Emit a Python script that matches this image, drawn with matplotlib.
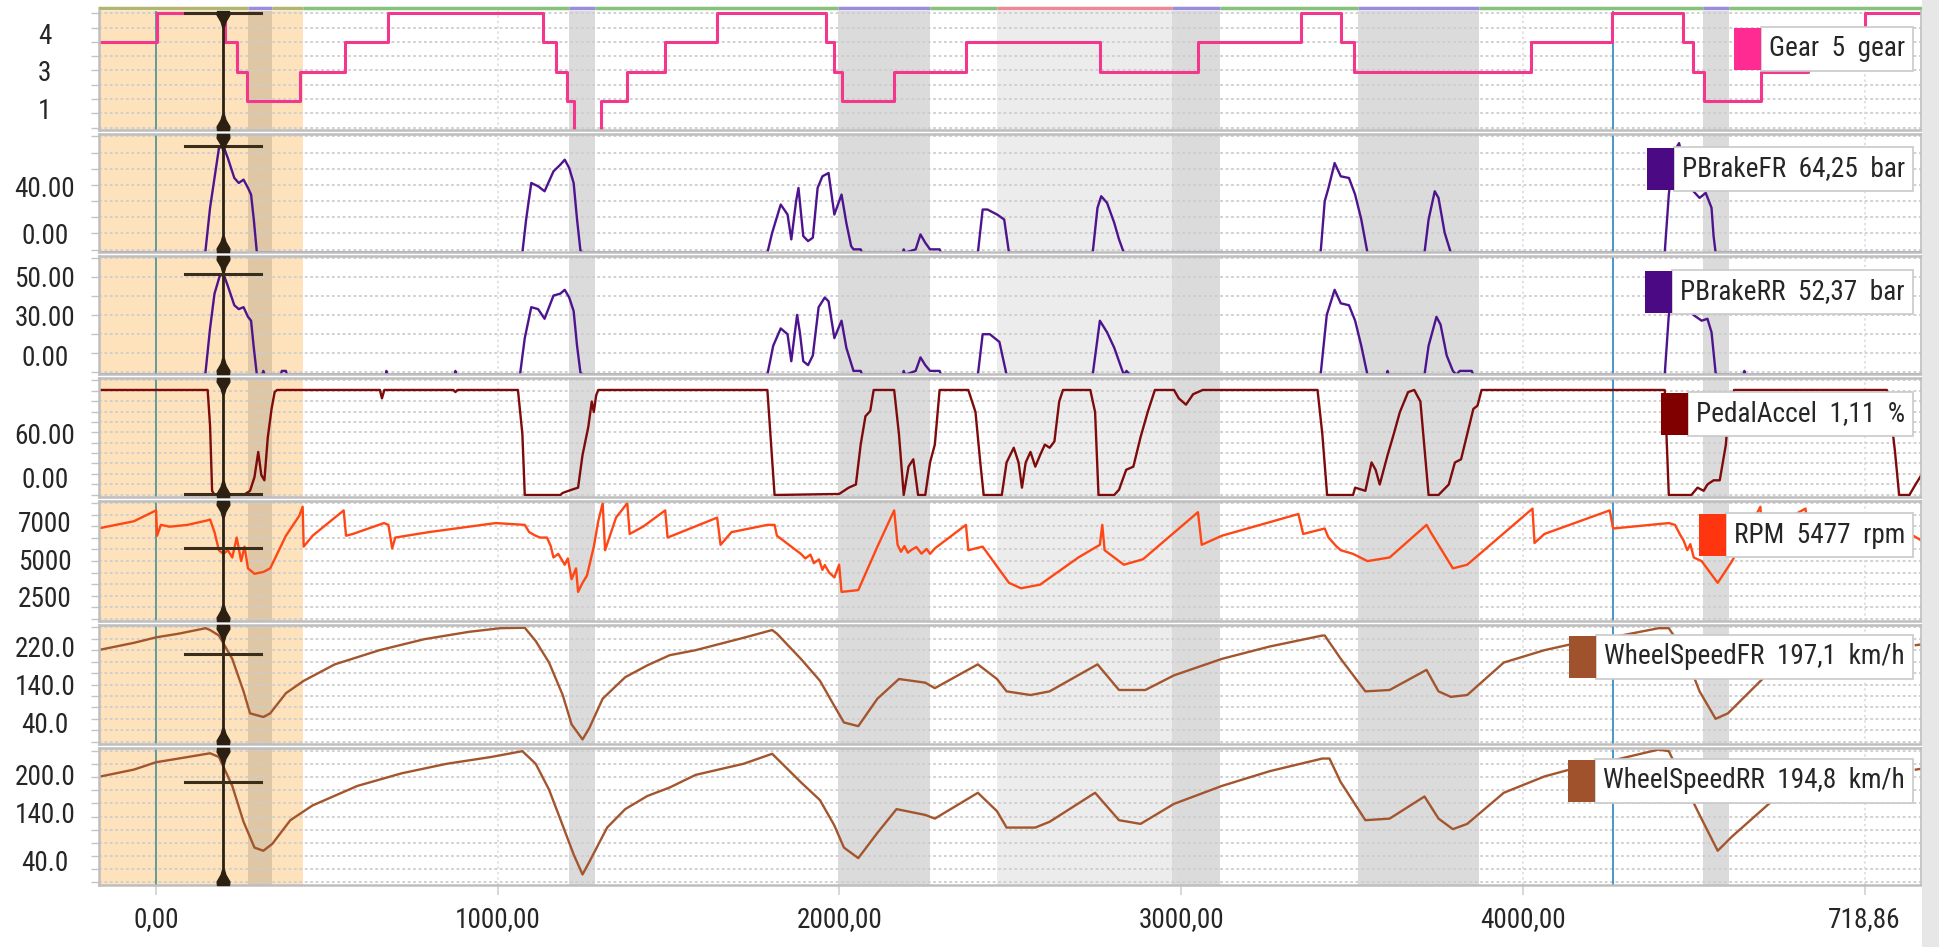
import matplotlib
matplotlib.use("Agg")
import matplotlib.pyplot as plt
import numpy as np
from matplotlib import font_manager
from matplotlib.font_manager import FontProperties
from matplotlib.patches import Rectangle
from matplotlib.path import Path
from matplotlib.textpath import TextPath
from matplotlib.transforms import IdentityTransform

# ---------------- data (distance, value) ----------------
gear_trace = [(-170, 4), (3, 5), (203, 4), (236, 3), (265, 2), (421, 3), (552, 4), (680, 5),
              (1131, 4), (1170, 3), (1203, 2), (1222, 1), (1301, 2), (1377, 3), (1489, 4),
              (1642, 5), (1960, 4), (1985, 3), (2006, 2), (2160, 3), (2370, 4), (2762, 3),
              (3049, 4), (3350, 5), (3467, 4), (3506, 3), (4025, 4), (4260, 5), (4469, 4),
              (4499, 3), (4529, 2), (4696, 3), (4833, 4), (5000, 5), (5170, 5)]

brake_fr_trace = [(-170, 0), (144, 0), (158, 27), (171, 45), (184, 63), (197, 64.25), (210, 57),
                  (229, 45), (242, 42), (256, 44), (269, 39), (278, 35), (286, 20), (295, 0),
                  (1072, 0), (1083, 20), (1098, 42), (1118, 40), (1137, 37), (1163, 49), (1183, 53),
                  (1196, 56), (1209, 51), (1222, 42), (1232, 20), (1242, 1), (1250, 0),
                  (1789, 0), (1803, 12), (1828, 29), (1848, 23), (1859, 8), (1873, 31), (1880, 39),
                  (1894, 10), (1908, 7), (1922, 9), (1936, 39), (1950, 46), (1968, 48), (1985, 23),
                  (2006, 35), (2020, 18), (2034, 4), (2041, 2), (2062, 2), (2066, 0), (2186, 0),
                  (2188, 2), (2192, 0), (2223, 2), (2237, 11), (2251, 6), (2265, 2), (2293, 2),
                  (2297, 0), (2405, 0), (2419, 26), (2433, 26), (2461, 23), (2482, 20), (2496, 0),
                  (2741, 0), (2755, 27), (2766, 34), (2783, 30), (2804, 18), (2818, 8), (2832, 0),
                  (3408, 0), (3420, 31), (3431, 39), (3449, 54), (3467, 46), (3491, 45), (3509, 35),
                  (3527, 20), (3545, 0), (3712, 0), (3724, 20), (3742, 37), (3753, 33), (3771, 12),
                  (3789, 0), (4415, 0), (4427, 35), (4440, 60), (4457, 66), (4480, 45), (4499, 37),
                  (4517, 33), (4535, 36), (4552, 27), (4558, 10), (4564, 0), (5170, 0)]

brake_rr_trace = [(-170, 0), (144, 0), (158, 24), (171, 42), (186, 51), (197, 52.37), (210, 46),
                  (229, 36), (242, 34), (256, 35), (269, 30), (278, 28), (286, 14), (295, 0),
                  (310, 0), (314, 2), (318, 0), (365, 0), (368, 2), (380, 2), (383, 0), (672, 0),
                  (674, 2), (677, 0), (874, 0), (876, 2), (879, 0), (1065, 0), (1079, 19),
                  (1098, 35), (1118, 34), (1137, 29), (1163, 41), (1183, 42), (1196, 44), (1209, 40),
                  (1222, 33), (1232, 15), (1242, 1), (1250, 0), (1789, 0), (1806, 15), (1828, 24),
                  (1848, 21), (1859, 7), (1876, 31), (1884, 22), (1894, 7), (1908, 5), (1922, 10),
                  (1939, 35), (1957, 40), (1968, 38), (1985, 19), (2006, 28), (2020, 14), (2041, 2),
                  (2062, 2), (2066, 0), (2186, 0), (2188, 2), (2192, 0), (2223, 2), (2237, 9),
                  (2251, 5), (2265, 2), (2293, 2), (2297, 0), (2405, 0), (2419, 21), (2440, 21),
                  (2468, 17), (2489, 0), (2741, 0), (2762, 28), (2783, 22), (2804, 14), (2832, 0),
                  (2840, 2), (2850, 0), (3408, 0), (3426, 31), (3449, 44), (3467, 37), (3491, 36),
                  (3509, 28), (3527, 15), (3545, 0), (3602, 0), (3604, 2), (3607, 0), (3712, 0),
                  (3724, 15), (3747, 30), (3759, 26), (3777, 10), (3795, 2), (3805, 0), (3815, 2),
                  (3850, 2), (3855, 0), (4415, 0), (4427, 31), (4445, 50), (4460, 52), (4480, 38),
                  (4499, 31), (4523, 28), (4540, 29), (4552, 22), (4564, 1), (4570, 0), (4646, 0),
                  (4648, 2), (4651, 0), (5170, 0)]

pedal_trace = [(-170, 100), (151, 100), (158, 66), (164, 4), (171, 0), (256, 0), (275, 4), (288, 17),
               (299, 41), (308, 19), (317, 14), (327, 55), (338, 82), (347, 98), (354, 100),
               (655, 100), (661, 92), (668, 100), (870, 100), (876, 98), (882, 100), (1059, 100),
               (1072, 58), (1079, 0), (1183, 0), (1190, 2), (1216, 5), (1235, 7), (1248, 38),
               (1265, 65), (1275, 89), (1281, 79), (1288, 95), (1294, 100), (1789, 100), (1800, 48),
               (1810, 0), (1999, 1), (2027, 7), (2048, 10), (2062, 48), (2076, 75), (2090, 80),
               (2100, 100), (2160, 100), (2174, 58), (2188, 0), (2202, 27), (2216, 34), (2230, 0),
               (2251, 0), (2265, 31), (2279, 48), (2293, 100), (2377, 100), (2398, 79), (2412, 31),
               (2422, 0), (2475, 0), (2489, 31), (2510, 45), (2524, 31), (2534, 7), (2545, 31),
               (2559, 41), (2573, 27), (2587, 38), (2601, 48), (2615, 45), (2629, 51), (2643, 89),
               (2654, 100), (2734, 100), (2748, 79), (2758, 0), (2804, 0), (2818, 5), (2839, 24),
               (2860, 27), (2881, 55), (2902, 79), (2923, 100), (2979, 100), (2993, 92), (3014, 86),
               (3035, 96), (3063, 100), (3399, 100), (3413, 58), (3427, 0), (3503, 0), (3509, 7),
               (3539, 4), (3557, 31), (3569, 24), (3581, 10), (3604, 38), (3622, 58), (3640, 79),
               (3664, 98), (3682, 100), (3700, 89), (3712, 45), (3724, 0), (3753, 0), (3783, 10),
               (3801, 31), (3819, 34), (3837, 58), (3855, 82), (3867, 85), (3879, 100), (4415, 100),
               (4427, 0), (4493, 0), (4511, 7), (4529, 4), (4540, 10), (4558, 14), (4576, 14),
               (4594, 48), (4600, 75), (4618, 100), (5065, 100), (5071, 92), (5089, 41), (5101, 0),
               (5131, 0), (5149, 10), (5170, 21)]

rpm_trace = [(-170, 6524), (-65, 6905), (0, 7476), (3, 6143), (14, 6714), (40, 6619), (92, 6714),
             (150, 6950), (158, 7000), (171, 6333), (184, 5381), (197, 5190), (210, 5381), (223, 5000),
             (236, 6048), (249, 4810), (259, 5571), (269, 4428), (288, 4143), (314, 4238), (334, 4428),
             (380, 6143), (419, 7190), (429, 7667), (432, 5571), (458, 6143), (549, 7476), (556, 6143),
             (576, 6238), (667, 6810), (680, 6714), (691, 5476), (700, 6048), (798, 6333), (915, 6619),
             (994, 6810), (1079, 6714), (1092, 6333), (1110, 6150), (1124, 6048), (1144, 6048),
             (1155, 5600), (1163, 5000), (1177, 5190), (1196, 4619), (1205, 4950), (1216, 3857),
             (1229, 4428), (1235, 3190), (1248, 3667), (1261, 4048), (1281, 5571), (1294, 6905),
             (1307, 7857), (1314, 5381), (1346, 7095), (1379, 7857), (1386, 6238), (1425, 6619),
             (1490, 7476), (1497, 6048), (1642, 7095), (1652, 5667), (1684, 6333), (1789, 6714),
             (1810, 6714), (1817, 6143), (1887, 5190), (1900, 4950), (1915, 5150), (1925, 4700),
             (1940, 4900), (1950, 4350), (1957, 4600), (1970, 4200), (1985, 3952), (1999, 4619),
             (2006, 3190), (2055, 3286), (2111, 5571), (2160, 7476), (2170, 5667), (2180, 5300),
             (2190, 5600), (2200, 5250), (2209, 5381), (2225, 5550), (2240, 5200), (2255, 5450),
             (2265, 5190), (2279, 5476), (2370, 6714), (2377, 5381), (2419, 5571), (2496, 3667),
             (2531, 3381), (2587, 3571), (2699, 5000), (2762, 5667), (2769, 6714), (2776, 5381),
             (2832, 4619), (2888, 4905), (3049, 7381), (3060, 5667), (3119, 6143), (3343, 7286),
             (3357, 6238), (3420, 6524), (3431, 6048), (3455, 5571), (3467, 5381), (3503, 5190),
             (3545, 4810), (3610, 5000), (3718, 6714), (3730, 6333), (3795, 4428), (3837, 4619),
             (4028, 7571), (4034, 5762), (4063, 6238), (4254, 7476), (4264, 6524), (4427, 6810),
             (4445, 6714), (4460, 6200), (4470, 5900), (4481, 5381), (4490, 5700), (4500, 5000),
             (4523, 4810), (4570, 3667), (4612, 4810), (4695, 7667), (4700, 6300), (4827, 7571),
             (4835, 6400), (5100, 6600), (5170, 5850)]

wheel_fr_trace = [(-170, 205), (-65, 221), (0, 233), (66, 241), (145, 253), (158, 249), (184, 237),
                  (223, 186), (256, 115), (275, 67), (314, 59), (334, 67), (380, 111), (432, 138),
                  (523, 174), (654, 205), (785, 229), (915, 245), (1007, 253), (1079, 254), (1111, 225),
                  (1150, 178), (1190, 107), (1216, 43), (1248, 10), (1268, 35), (1307, 99), (1373, 146),
                  (1438, 172), (1503, 194), (1579, 205), (1719, 232), (1803, 249), (1817, 241),
                  (1887, 186), (1943, 138), (1985, 83), (2013, 47), (2055, 39), (2111, 99), (2174, 142),
                  (2251, 134), (2279, 122), (2405, 174), (2461, 142), (2489, 115), (2559, 107),
                  (2615, 115), (2755, 174), (2818, 118), (2895, 118), (2979, 150), (3119, 186),
                  (3259, 213), (3413, 237), (3420, 237), (3467, 186), (3539, 115), (3610, 118),
                  (3718, 162), (3753, 115), (3789, 103), (3837, 107), (3944, 178), (4063, 205),
                  (4159, 221), (4260, 233), (4397, 253), (4427, 253), (4470, 205), (4517, 115),
                  (4564, 55), (4600, 67), (4701, 142), (4730, np.nan), (5150, 216), (5170, 218)]

wheel_rr_trace = [(-170, 205), (-65, 219), (0, 233), (66, 240), (158, 250), (184, 243), (223, 188),
                  (256, 120), (288, 71), (314, 65), (340, 78), (393, 123), (458, 151), (589, 188),
                  (719, 212), (850, 230), (981, 243), (1072, 254), (1111, 230), (1150, 181), (1190, 113),
                  (1222, 58), (1248, 20), (1268, 44), (1320, 109), (1373, 144), (1438, 169), (1503, 185),
                  (1579, 209), (1719, 230), (1803, 249), (1817, 240), (1887, 195), (1943, 161),
                  (1985, 113), (2013, 71), (2055, 51), (2111, 99), (2167, 144), (2251, 133), (2279, 126),
                  (2405, 175), (2461, 140), (2489, 109), (2573, 109), (2615, 120), (2748, 175),
                  (2818, 123), (2881, 116), (2979, 154), (3119, 188), (3259, 216), (3413, 240),
                  (3434, 240), (3467, 195), (3539, 123), (3610, 126), (3712, 168), (3753, 126),
                  (3795, 106), (3837, 116), (3944, 175), (4063, 206), (4159, 223), (4260, 236),
                  (4397, 257), (4427, 254), (4470, 195), (4517, 133), (4570, 65), (4612, 92),
                  (4725, 157), (4730, np.nan), (5150, 219), (5170, 221)]

traces = [gear_trace, brake_fr_trace, brake_rr_trace, pedal_trace, rpm_trace, wheel_fr_trace, wheel_rr_trace]
channel_names = ["Gear", "PBrakeFR", "PBrakeRR", "PedalAccel", "RPM", "WheelSpeedFR", "WheelSpeedRR"]
cursor_values = ["5", "64,25", "52,37", "1,11", "5477", "197,1", "194,8"]
cursor_levels = [5, 64.25, 52.37, 1.11, 5477, 197.1, 194.8]
channel_units = ["gear", "bar", "bar", "%", "rpm", "km/h", "km/h"]
line_colors = ["#F2378D", "#4E148E", "#4E148E", "#7E0B0B", "#FF4716", "#A3552E", "#A3552E"]
box_colors = ["#FF2A92", "#4B0A84", "#4B0A84", "#800000", "#FF3510", "#A0522D", "#A0522D"]

y_limits = [(1.03, 5.06), (0.4, 71.5), (0.4, 61.5), (-1.9, 111.4), (1660, 7970), (0, 260), (0, 260)]
ytick_pos = [[4.31, 3.06, 1.77], [40, 11.5], [51, 30.7, 9.9], [59, 17], [6868, 4870, 2923],
             [212, 129, 46], [209, 137, 47]]
ytick_text = [["4", "3", "1"], ["40.00", "0.00"], ["50.00", "30.00", "0.00"], ["60.00", "0.00"],
              ["7000", "5000", "2500"], ["220.0", "140.0", "40.0"], ["200.0", "140.0", "40.0"]]
grid_count = [9, 8, 7, 12, 11, 11, 11]

xtick_pos = [0, 1000, 2000, 3000, 4000, 5000]
xtick_text = ["0,00", "1000,00", "2000,00", "3000,00", "4000,00", "718,86"]

cursor_x = 196
lap_start = 0
marker_line = 4264
orange_zone = (-170, 430)
tan_zone = (269, 340)
dark_zones = [(1208, 1285), (1996, 2265), (2973, 3114), (3518, 3872), (4527, 4603)]
light_zones = [(2461, 2973)]
sector_strip = [(-170, 269, "#B3B66E"), (269, 340, "#9A8CDF"), (340, 430, "#B3B66E"),
                (430, 1208, "#86C27A"), (1208, 1285, "#9A8CDF"), (1285, 1996, "#86C27A"),
                (1996, 2265, "#9A8CDF"), (2265, 2461, "#86C27A"), (2461, 2973, "#EE8894"),
                (2973, 3114, "#9A8CDF"), (3114, 3518, "#86C27A"), (3518, 3872, "#9A8CDF"),
                (3872, 4527, "#86C27A"), (4527, 4603, "#9A8CDF"), (4603, 5170, "#86C27A")]


# ---------------- fonts: a narrow face if one is installed ----------------
def pick_font():
    ttf = font_manager.fontManager.ttflist
    regular = lambda f: f.style == "normal" and str(f.weight) in ("400", "normal", "regular", "book")
    for name in ["Liberation Sans Narrow", "Roboto Condensed", "Arial Narrow", "Open Sans Condensed",
                 "Noto Sans Condensed"]:
        for f in ttf:
            if f.name == name and regular(f):
                return FontProperties(fname=f.fname)
    for f in ttf:
        if f.stretch in ("condensed", "semi-condensed") and regular(f) \
                and "Mono" not in f.name and "Serif" not in f.name:
            return FontProperties(fname=f.fname)
    return FontProperties(family="Liberation Sans")


base_font = pick_font()
# size so that the widest value box text spans ~297 px like the screenshot
probe = TextPath((0, 0), "WheelSpeedFR  197,1  km/h", size=100, prop=base_font)
FS = 100 * 297 / probe.get_extents().width * 72 / 100
FONT = base_font.copy()
FONT.set_size(FS)

# ---------------- layout ----------------
W, H = 1939, 947
LEFT, RIGHT = 99, 1921
panel_px = [(11, 130), (134, 252), (256, 374), (378, 497), (501, 621), (625, 744), (748, 885)]
legend_y_px = [49, 169, 292, 414, 535, 657, 781]

fig = plt.figure(figsize=(W / 100, H / 100), dpi=100, facecolor="white")
fig.patches.append(Rectangle((1922 / W, 0), (W - 1922) / W, 1, transform=fig.transFigure,
                             facecolor="#E7E7E7", edgecolor="none", zorder=0))

pin_bottom = Path([(-0.75, -1), (0.75, -1), (0.8, -0.55), (0.3, 0.3), (0.1, 1), (-0.1, 1),
                   (-0.3, 0.3), (-0.8, -0.55), (-0.75, -1)], closed=True)
pin_top = Path([(x, -y) for x, y in pin_bottom.vertices], closed=True)

GRID = "#CDCDCD"
SPINE = "#BEBEBE"
TEXT = "#262626"

axes = []
for i, (top, bot) in enumerate(panel_px):
    h = bot - top
    ax = fig.add_axes([LEFT / W, 1 - bot / H, (RIGHT - LEFT) / W, h / H])
    axes.append(ax)
    y0, y1 = y_limits[i]
    ax.set_xlim(-167, 5165)
    ax.set_ylim(y0, y1)
    ax.set_facecolor("white")

    # shaded zones
    ax.axvspan(*orange_zone, color="#FDE2BC", zorder=0, lw=0)
    ax.axvspan(*tan_zone, color="#DFC6A4", zorder=0.1, lw=0)
    for a, b in dark_zones:
        ax.axvspan(a, b, color="#DBDBDB", zorder=0.1, lw=0)
    for a, b in light_zones:
        ax.axvspan(a, b, color="#ECECEC", zorder=0.1, lw=0)

    # dotted grid
    grid_vals = y0 + (y1 - y0) * np.linspace(0.02, 0.98, grid_count[i])
    for gv in grid_vals:
        ax.axhline(gv, color=GRID, lw=1.3, ls=(0, (1.5, 1.5)), zorder=0.5)
    for xv in xtick_pos[1:]:
        ax.axvline(xv, color="#D9D9D9", lw=1.1, ls=(0, (1.5, 2)), zorder=0.5)

    ax.axvline(lap_start, color="#5E9C9A", lw=1.4, zorder=1)
    ax.axvline(marker_line, color="#3A8FC7", lw=1.3, zorder=1)

    d, v = zip(*traces[i])
    if i == 0:
        ax.plot(d, v, color=line_colors[i], lw=2.2, drawstyle="steps-post", zorder=2)
    else:
        ax.plot(d, v, color=line_colors[i], lw=1.7, zorder=2)

    # cursor
    ax.axvline(cursor_x, color="#2B2012", lw=2.0, zorder=6)
    ax.plot([cursor_x - 111, cursor_x + 111], [cursor_levels[i]] * 2, color="#3A2D1B", lw=2.2,
            zorder=6)
    tr = ax.get_xaxis_transform()
    ax.plot([cursor_x], [1 - 8 / h], transform=tr, marker=pin_top, ms=11.5, color="#2B2012",
            zorder=7, clip_on=False)
    ax.plot([cursor_x], [8 / h], transform=tr, marker=pin_bottom, ms=11.5, color="#2B2012",
            zorder=7, clip_on=False)

    # spines and ticks
    for side in ["left", "right", "top", "bottom"]:
        ax.spines[side].set_color(SPINE)
        ax.spines[side].set_linewidth(1.8)
    ax.spines["right"].set_linewidth(1.2)
    if i == 0:
        ax.spines["top"].set_visible(False)

    ax.set_yticks(ytick_pos[i])
    ax.set_yticklabels(ytick_text[i])
    ax.set_yticks(grid_vals, minor=True)
    ax.tick_params(axis="y", which="major", length=0, pad=39, labelcolor=TEXT)
    ax.tick_params(axis="y", which="minor", length=6, width=1, color="#C4C4C4", direction="out")
    for lab in ax.get_yticklabels():
        lab.set_horizontalalignment("center")
        lab.set_fontproperties(FONT)

    if i < len(panel_px) - 1:
        ax.tick_params(axis="x", which="both", bottom=False, labelbottom=False)
    else:
        ax.set_xticks(xtick_pos)
        ax.set_xticklabels(xtick_text)
        ax.tick_params(axis="x", length=7, width=1.2, color="#CFCFCF", pad=8, labelcolor=TEXT)
        for lab in ax.get_xticklabels():
            lab.set_fontproperties(FONT)

# sector strip above the top panel
top_ax = axes[0]
strip_y = 1 + 2.5 / (panel_px[0][1] - panel_px[0][0])
for a, b, c in sector_strip:
    top_ax.plot([a, b], [strip_y, strip_y], transform=top_ax.get_xaxis_transform(), color=c,
                lw=2.5, solid_capstyle="butt", clip_on=False, zorder=3)

# channel value boxes
legend_texts = []
for i in range(len(channel_names)):
    label = f"{channel_names[i]}  {cursor_values[i]}  {channel_units[i]}"
    t = fig.text(1905 / W, 1 - legend_y_px[i] / H, label, ha="right", va="center",
                 fontproperties=FONT, color=TEXT, zorder=10,
                 bbox=dict(boxstyle="square,pad=0.3", facecolor="white", edgecolor="#C9C9C9", lw=1.2))
    legend_texts.append(t)

fig.canvas.draw()
for t, col in zip(legend_texts, box_colors):
    bb = t.get_bbox_patch().get_window_extent()
    fig.add_artist(Rectangle((bb.x0 - 27, bb.y0 + 1), 27, bb.height - 2, transform=IdentityTransform(),
                             facecolor=col, edgecolor="none", zorder=11))

fig.savefig("out.png", dpi=100, facecolor="white")
